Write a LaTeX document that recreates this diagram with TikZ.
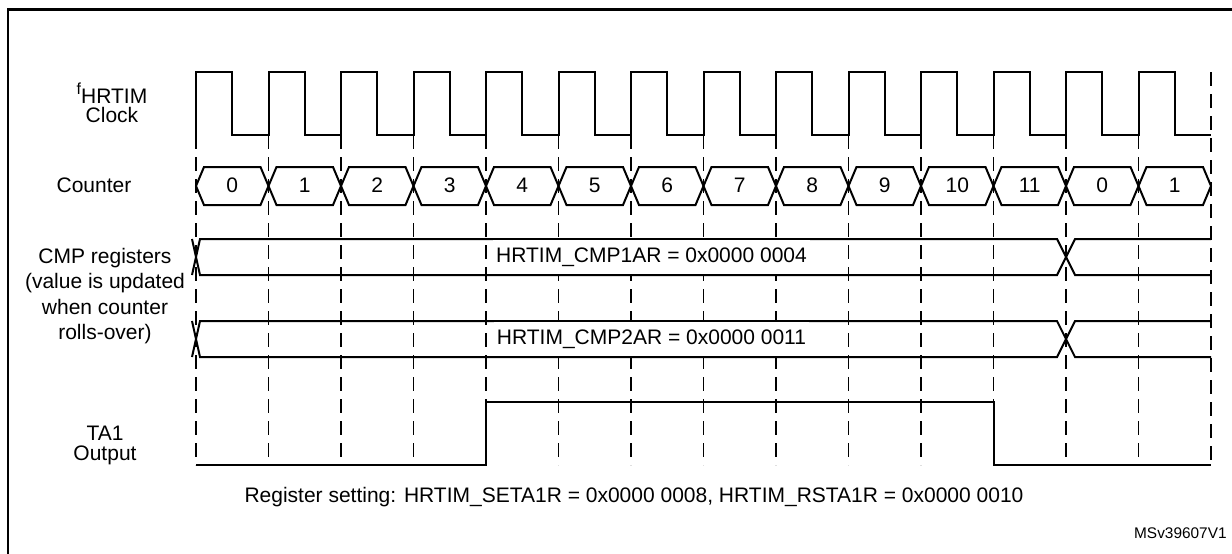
\documentclass[tikz,border=0pt]{standalone}
\usepackage{fontspec}
\setmainfont{Liberation Sans}
\usetikzlibrary{calc}

\begin{document}
\begin{tikzpicture}[x=0.5pt, y=-0.5pt,
	every node/.style={font=\fontsize{10.5}{12.6}\selectfont, align=center, inner sep=0pt},
	signal/.style={line width=1pt, line join=miter},
	gridline/.style={line width=0.9pt, dash pattern=on 7pt off 4pt},
	regtext/.style={fill=white, inner xsep=1.5pt, minimum height=17pt}]
\useasboundingbox (0,0) rectangle (1232,553);
\clip (0,0) rectangle (1232,553);

\draw[line width=1.2pt] (8,600) -- (8,9.5) -- (1300,9.5);

% row labels
\node (clk) at (112,103) {\raisebox{4.5pt}{\fontsize{8}{9}\selectfont f}HRTIM\\[-3.2pt]Clock};
\node[anchor=base] (cnt) at (94,192) {Counter};
\node (cmp) at (105,296) {CMP registers\\(value is updated\\when counter\\rolls-over)};
\node (ta) at (105,445) {TA1\\[-2.6pt]Output};

% dashed time marks
\foreach \k in {0,...,13}
	\draw[gridline] (196+72.5*\k,135) -- (196+72.5*\k,465);
\draw[gridline] (1211,72) -- (1211,465);

% clock
\draw[signal] (196,135) \foreach \k in {0,...,13} {-- ++(0,-63) -- ++(36.25,0) -- ++(0,63) -- ++(36.25,0)};

% counter
\foreach \v [count=\k from 0] in {0,...,11,0,1} {
	\pgfmathsetmacro\xa{196+72.5*\k}
	\pgfmathsetmacro\xb{\xa+72.5}
	\draw[signal] (\xa,186) -- (\xa+8,167) -- (\xb-8,167) -- (\xb,186) -- (\xb-8,205) -- (\xa+8,205) -- cycle;
	\node[anchor=base] (c\k) at ({(\xa+\xb)/2},192) {\v};
}

% compare registers
\foreach \yt/\yb/\n/\val in {239/275/1/0004, 321/357/2/0011} {
	\draw[signal] (192,\yt) -- (200,\yb) -- (1057,\yb) -- (1075,\yt) -- (1211,\yt);
	\draw[signal] (192,\yb) -- (200,\yt) -- (1057,\yt) -- (1075,\yb) -- (1211,\yb);
	\node[regtext] (cmp\n) at (651.5,{(\yt+\yb)/2}) {HRTIM\_CMP\n AR = 0x0000 \val};
}

% output
\draw[signal] (196,465) -- (486,465) -- (486,402) -- (993.5,402) -- (993.5,465) -- (1211,465);

\node[anchor=base] (setting) at (634,502) {Register setting: HRTIM\_SETA1R = 0x0000 0008, HRTIM\_RSTA1R = 0x0000 0010};
\node[anchor=base east, font=\fontsize{7.7}{9}\selectfont] (ref) at (1227,538) {MSv39607V1};

\end{tikzpicture}
\end{document}
